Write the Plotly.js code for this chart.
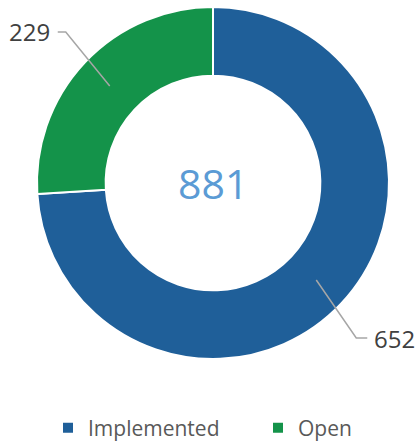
<!DOCTYPE html>
<html>
<head>
<meta charset="utf-8">
<script src="https://cdn.plot.ly/plotly-3.0.1.min.js"></script>
<style>html,body{margin:0;padding:0;background:#fff;}#chart{width:418px;height:441px;}</style>
</head>
<body>
<div id="chart"></div>
<script>
const categories = ['Implemented', 'Open'];
const values = [652, 229];
const colors = ['#1F5F99', '#14934A'];

const W = 418, H = 441;
const margin = {l: 0, r: 0, t: 7, b: 82, pad: 0};
const hole = 0.61;
const cx = 213, R = 176;
const plotW = W - margin.l - margin.r, plotH = H - margin.t - margin.b;
const cy = margin.t + plotH / 2;
const domX = [(cx - R - margin.l) / plotW, (cx + R - margin.l) / plotW];
const toPx = (px, py) => [(px - margin.l) / plotW, 1 - (py - margin.t) / plotH];

const total = values.reduce((a, b) => a + b, 0);
const shapes = [], annotations = [];
let cum = 0;
values.forEach((v, i) => {
  const a = (cum + v / 2) / total * 2 * Math.PI;
  cum += v;
  const midR = R * (1 + hole) / 2;
  const px = cx + midR * Math.sin(a), py = cy - midR * Math.cos(a);
  const right = Math.sin(a) > 0;
  const ex = right ? px + 40 : px - 44, ey = right ? py + 58 : py - 54;
  const fx = right ? ex + 11 : ex - 8;
  const p0 = toPx(px, py), p1 = toPx(ex, ey), p2 = toPx(fx, ey);
  shapes.push({type: 'path', xref: 'paper', yref: 'paper',
    path: `M ${p0[0]} ${p0[1]} L ${p1[0]} ${p1[1]} L ${p2[0]} ${p2[1]}`,
    line: {color: '#A6A6A6', width: 1.5}});
  annotations.push({xref: 'paper', yref: 'paper', x: p2[0], y: p2[1],
    xanchor: right ? 'left' : 'right', yanchor: 'middle', xshift: right ? 5 : -6,
    text: String(v), showarrow: false,
    font: {family: 'Open Sans', size: 24, color: '#404040'}});
});
annotations.push({xref: 'paper', yref: 'paper', x: (cx - margin.l) / plotW, y: 0.5, xanchor: 'center', yanchor: 'middle',
  text: String(total), showarrow: false,
  font: {family: 'Open Sans', size: 41, color: '#5B9BD5'}});

const data = [{
  type: 'pie', labels: categories, values: values, hole: hole,
  domain: {x: domX, y: [0, 1]},
  sort: false, direction: 'clockwise', rotation: 0,
  marker: {colors: colors, line: {color: '#FFFFFF', width: 2}},
  textinfo: 'none', hoverinfo: 'none'
}];
const layout = {
  width: W, height: H, margin: margin,
  paper_bgcolor: '#FFFFFF', plot_bgcolor: '#FFFFFF',
  showlegend: true,
  legend: {orientation: 'h', xref: 'container', yref: 'container', x: 48 / W, xanchor: 'left',
    y: 1 - 428 / H, yanchor: 'middle', entrywidth: 165, entrywidthmode: 'pixels',
    font: {family: 'Open Sans', size: 21, color: '#595959'}, traceorder: 'normal'},
  shapes: shapes, annotations: annotations
};
Plotly.newPlot('chart', data, layout, {staticPlot: true, displayModeBar: false});
</script>
</body>
</html>
